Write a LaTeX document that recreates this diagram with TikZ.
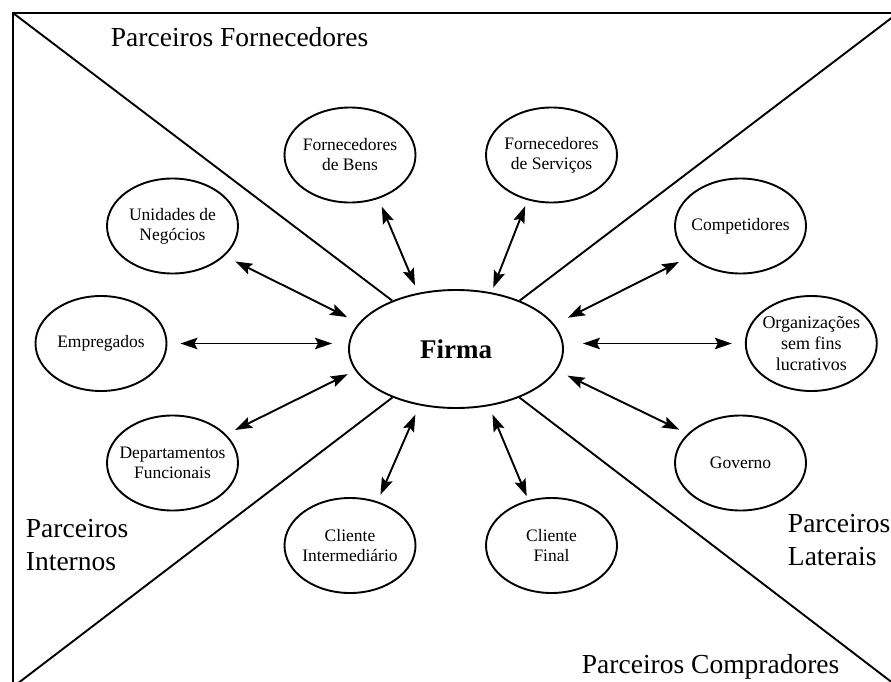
\documentclass[tikz,border=0pt]{standalone}
\usepackage{fontspec}
\setmainfont{Liberation Serif}
\usetikzlibrary{arrows.meta,shapes.geometric}
\begin{document}
\begin{tikzpicture}[x=1pt,y=-1pt,line width=1.9pt,
  party/.style={draw, ellipse, minimum width=131pt, minimum height=95pt,
    inner sep=-15pt, align=center, font=\fontsize{17.5}{20}\selectfont},
  hub/.style={draw, ellipse, minimum width=214pt, minimum height=118pt,
    inner sep=0pt, font=\fontsize{27}{32}\selectfont\bfseries},
  link/.style={{Stealth[length=17pt,width=11.5pt,inset=3pt]}-{Stealth[length=17pt,width=11.5pt,inset=3pt]}},
  zone/.style={inner sep=0pt, anchor=base west, align=left,
    font=\fontsize{27.5}{33}\selectfont}]
\useasboundingbox (0,0) rectangle (891,682);
\clip (0,0) rectangle (891,682);

% frame corners
\coordinate (tl) at (13,13);
\coordinate (tr) at (898,13);
\coordinate (bl) at (13,687);
\coordinate (br) at (898,687);
\draw (tl) rectangle (br);

% central firm
\node[hub] (firma) at (456,349) {Firma};

% diagonals
\draw (tl) -- (firma);
\draw (tr) -- (firma);
\draw (bl) -- (firma);
\draw (br) -- (firma);

% partners
\node[party] (bens) at (350,155) {Fornecedores\\de Bens};
\node[party] (serv) at (551.5,155) {Fornecedores\\de Serviços};
\node[party] (unid) at (172.5,226) {Unidades de\\Negócios};
\node[party] (comp) at (740.5,226) {Competidores};
\node[party] (empr) at (101,343.5) {Empregados};
\node[party, font=\fontsize{18}{21}\selectfont] (org) at (811.3,343.5) {Organizações\\sem fins\\lucrativos};
\node[party] (dept) at (172.5,463) {Departamentos\\Funcionais};
\node[party] (gov) at (740.5,463) {Governo};
\node[party] (cint) at (350,545.5) {Cliente\\Intermediário};
\node[party] (cfin) at (551.5,545.5) {Cliente\\Final};

% connectors
\draw[link, shorten <=8.5pt, shorten >=8pt] (bens.-57) -- (firma.124);
\draw[link, shorten <=6.4pt, shorten >=5pt] (serv.-118) -- (firma.58);
\draw[link, shorten <=12pt, shorten >=13pt] (unid.-30) -- (firma.165);
\draw[link, shorten <=11.5pt, shorten >=15pt] (comp.-149) -- (firma.14);
\draw[link, shorten <=13pt, shorten >=16pt] (empr.east) -- (empr.east -| firma.west);
\draw[link, shorten <=19pt, shorten >=13pt] (firma.east |- org.west) -- (org.west);
\draw[link, shorten <=10pt, shorten >=8.4pt] (dept.28) -- (firma.192);
\draw[link, shorten <=9.3pt, shorten >=12pt] (gov.151) -- (firma.-12);
\draw[link, shorten <=7.3pt, shorten >=10pt] (cint.58) -- (firma.-123);
\draw[link, shorten <=4.3pt, shorten >=9pt] (cfin.117) -- (firma.-60);

% zone labels
\node[zone] (zf) at (110,47) {Parceiros Fornecedores};
\node[zone] (zi) at (25,570) {Parceiros\\Internos};
\node[zone] (zl) at (787,565) {Parceiros\\Laterais};
\node[zone] (zc) at (581,673) {Parceiros Compradores};
\end{tikzpicture}
\end{document}
